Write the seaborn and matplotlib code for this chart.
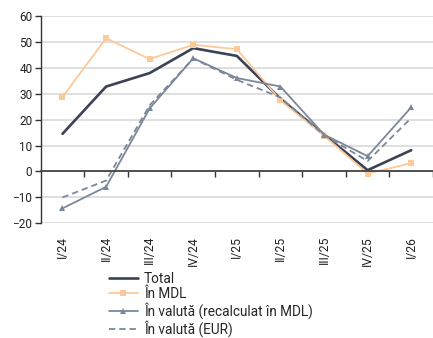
import matplotlib
matplotlib.use("Agg")
import matplotlib.pyplot as plt
import seaborn as sns
import pandas as pd
import numpy as np

quarters = ["I/24", "II/24", "III/24", "IV/24", "I/25", "II/25", "III/25", "IV/25", "I/26"]
total = [14.5, 32.7, 37.9, 47.5, 44.5, 28.0, 14.2, 0.5, 8.2]
in_mdl = [28.7, 51.3, 43.3, 48.8, 47.1, 27.4, 13.8, -0.8, 3.2]
in_valuta_mdl = [-14.2, -5.9, 24.3, 43.6, 36.0, 32.7, 14.2, 5.9, 24.7]
in_valuta_eur = [-10.0, -3.5, 25.5, 43.5, 35.3, 28.5, 14.0, 4.0, 20.6]

labels = ["Total", "În MDL", "În valută (recalculat în MDL)", "În valută (EUR)"]

sns.set_theme(style="white")
plt.rcParams["font.family"] = ["Roboto", "DejaVu Sans"]

df = pd.DataFrame({
    "pos": np.arange(len(quarters)),
    labels[0]: total,
    labels[1]: in_mdl,
    labels[2]: in_valuta_mdl,
    labels[3]: in_valuta_eur,
})

fig = plt.figure(figsize=(4.33, 3.38), dpi=100)
ax = fig.add_axes([0.094, 0.339, 0.906, 0.6146])

navy = "#3b4254"
peach = "#fbc99a"
slate = "#7b8899"

styles = {
    labels[0]: dict(color=navy, linewidth=1.9),
    labels[1]: dict(color=peach, linewidth=1.3, marker="s", markersize=4, markeredgewidth=0),
    labels[2]: dict(color=slate, linewidth=1.3, marker="^", markersize=4.5, markeredgewidth=0),
    labels[3]: dict(color=slate, linewidth=1.3, linestyle=(0, (3.5, 2.2))),
}
for name in labels:
    sns.lineplot(data=df, x="pos", y=name, ax=ax, label=name, sort=False, **styles[name])

ax.set_xlim(-0.5, len(quarters) - 0.5)
ax.set_ylim(-20, 60)
ax.set_yticks(np.arange(-20, 61, 10))
ax.yaxis.grid(True, color="#dcdcdc", linewidth=1.3)
ax.set_axisbelow(True)
ax.set_xlabel("")
ax.set_ylabel("")

for s in ["top", "right"]:
    ax.spines[s].set_visible(False)
ax.spines["left"].set_color("#333333")
ax.spines["left"].set_linewidth(1.0)
ax.spines["bottom"].set_position(("data", 0))
ax.spines["bottom"].set_color("#444444")
ax.spines["bottom"].set_linewidth(1.3)

# ticks between categories on the zero line
ax.set_xticks(np.arange(0.5, len(quarters), 1.0))
ax.set_xticklabels([])
ax.tick_params(axis="x", direction="out", length=4, width=1.0, color="#333333", bottom=True)
ax.tick_params(axis="y", direction="out", length=4, width=1.0, color="#333333", left=True,
               labelsize=8.5, labelcolor="#222222", pad=2)

# category labels below the plot area
sec = ax.secondary_xaxis(0)
sec.set_xticks(np.arange(len(quarters)))
sec.set_xticklabels(quarters, rotation=90, fontsize=8.7, color="#222222")
sec.tick_params(length=0, pad=9)
sec.spines["bottom"].set_visible(False)

ax.get_legend().remove()
handles, lbls = ax.get_legend_handles_labels()
fig.legend(handles, lbls, loc="upper left", bbox_to_anchor=(0.252, 0.196), frameon=False,
           fontsize=9.8, handlelength=2.1, handletextpad=0.45, labelspacing=0.08,
           numpoints=1, borderaxespad=0, borderpad=0)

fig.savefig("out.png", dpi=100)
